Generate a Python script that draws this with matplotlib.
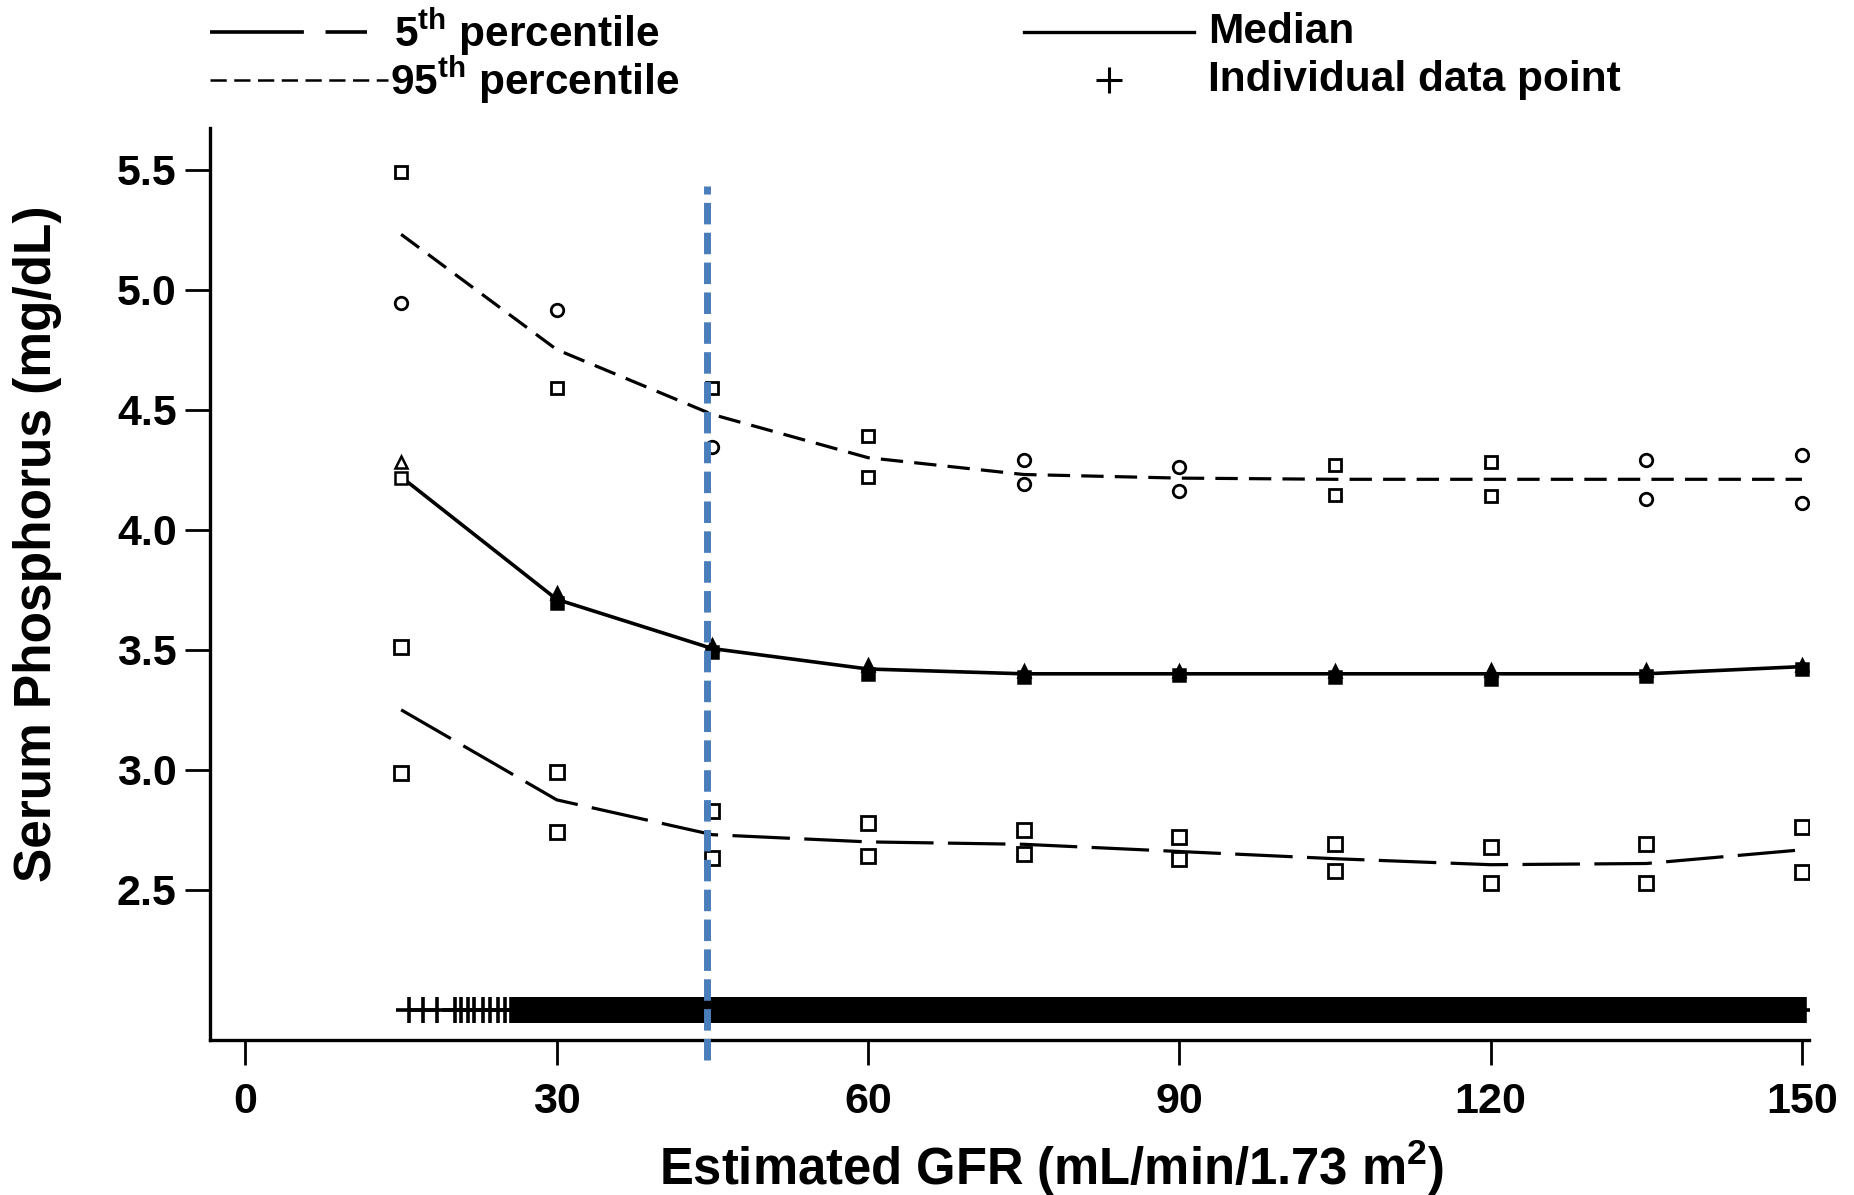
import matplotlib
matplotlib.use("Agg")
import matplotlib.pyplot as plt
from matplotlib.lines import Line2D

plt.rcParams['font.family'] = ['Liberation Sans', 'DejaVu Sans']
plt.rcParams['font.weight'] = 'bold'
plt.rcParams['mathtext.fontset'] = 'custom'
plt.rcParams['mathtext.rm'] = 'Liberation Sans:bold'
plt.rcParams['mathtext.default'] = 'rm'

# ---------------- data ----------------
egfr = [15, 30, 45, 60, 75, 90, 105, 120, 135, 150]
p95 = [5.23, 4.75, 4.48, 4.30, 4.23, 4.215, 4.21, 4.21, 4.21, 4.21]
p95_hi = [5.49, 4.915, 4.59, 4.39, 4.29, 4.26, 4.27, 4.28, 4.29, 4.31]
p95_lo = [4.945, 4.59, 4.345, 4.22, 4.19, 4.16, 4.145, 4.14, 4.13, 4.11]
median = [4.22, 3.71, 3.505, 3.42, 3.40, 3.40, 3.40, 3.40, 3.40, 3.43]
med_hi = [4.28, 3.735, 3.52, 3.435, 3.41, 3.41, 3.41, 3.415, 3.415, 3.435]
med_lo = [4.215, 3.695, 3.49, 3.40, 3.385, 3.395, 3.385, 3.38, 3.39, 3.42]
p5 = [3.25, 2.875, 2.73, 2.70, 2.69, 2.66, 2.63, 2.605, 2.61, 2.667]
p5_hi = [3.51, 2.99, 2.83, 2.78, 2.75, 2.72, 2.69, 2.677, 2.69, 2.76]
p5_lo = [2.985, 2.74, 2.635, 2.64, 2.65, 2.63, 2.58, 2.53, 2.53, 2.576]

rug_sparse_x = [15.8, 17.1, 18.5, 20.2, 20.8, 21.4, 22.0, 22.9, 23.6, 24.3, 25.0]
rug_dense_range = [25.6, 150.3]
rug_y = 2.0
cutoff_gfr = 44.5
cutoff_span = [1.79, 5.43]

x_ticks = [0, 30, 60, 90, 120, 150]
y_ticks = [2.5, 3.0, 3.5, 4.0, 4.5, 5.0, 5.5]

# ---------------- figure ----------------
W, H = 1854, 1195
fig = plt.figure(figsize=(W / 100, H / 100), dpi=100)
ax = fig.add_axes([210 / W, 1 - 1040 / H, (1809 - 210) / W, (1040 - 128) / H])

ax.set_xlim(-3.42, 150.68)
ax.set_ylim(1.875, 5.673)

lw = 2.3
ax.plot(egfr, p95, color='black', lw=lw, dashes=(7, 3.5), zorder=3)
ax.plot(egfr, median, color='black', lw=2.6, zorder=3)
ax.plot(egfr, p5, color='black', lw=lw, dashes=(18, 4.5), zorder=3)

# confidence markers
m95_hi = ['s', 'o', 's', 's', 'o', 'o', 's', 's', 'o', 'o']
m95_lo = ['o', 's', 'o', 's', 'o', 'o', 's', 's', 'o', 'o']
for xv, yh, yl, mh, ml in zip(egfr, p95_hi, p95_lo, m95_hi, m95_lo):
    ax.plot([xv], [yh], marker=mh, ms=9, mfc='white', mec='black', mew=2.0, ls='none', zorder=4)
    ax.plot([xv], [yl], marker=ml, ms=9, mfc='white', mec='black', mew=2.0, ls='none', zorder=4)

for i, (xv, yh, yl) in enumerate(zip(egfr, med_hi, med_lo)):
    fc = 'white' if i == 0 else 'black'
    ax.plot([xv], [yh], marker='^', ms=9, mfc=fc, mec='black', mew=1.8, ls='none', zorder=4)
    ax.plot([xv], [yl], marker='s', ms=8, mfc=fc, mec='black', mew=1.8, ls='none', zorder=4)

ax.plot(egfr, p5_hi, marker='s', ms=10, mfc='white', mec='black', mew=2.0, ls='none', zorder=4)
ax.plot(egfr, p5_lo, marker='s', ms=10, mfc='white', mec='black', mew=2.0, ls='none', zorder=4)

# rug of individual data points
rug_pts = rug_sparse_x + rug_dense_range
ax.plot(rug_pts, [rug_y] * len(rug_pts), marker='+', ms=19, mew=2.6, color='black', ls='none', zorder=3)
ax.broken_barh([(rug_dense_range[0], rug_dense_range[1] - rug_dense_range[0])],
               (rug_y - 0.056, 0.112), facecolors='black', zorder=3)

# cutoff line
ax.plot([cutoff_gfr, cutoff_gfr], cutoff_span, color='#4a7ebb', lw=5, dashes=(3.1, 1.2),
        clip_on=False, zorder=5)

# axes styling
for s in ['top', 'right']:
    ax.spines[s].set_visible(False)
for s in ['left', 'bottom']:
    ax.spines[s].set_linewidth(2.4)
ax.set_xticks(x_ticks)
ax.set_yticks(y_ticks)
ax.set_yticklabels([f"{v:.1f}" for v in y_ticks])
ax.tick_params(axis='both', direction='out', length=18, width=2, labelsize=31)
ax.tick_params(axis='x', pad=12)
ax.tick_params(axis='y', pad=6)

fig.text(1052 / W, 1 - 1168 / H, r"Estimated GFR (mL/min/1.73 m$^{2}$)", ha='center', va='center',
         fontsize=36.5, fontweight='bold')
fig.text(38 / W, 1 - 544 / H, "Serum Phosphorus (mg/dL)", ha='center', va='center',
         rotation=90, fontsize=37, fontweight='bold')

# legend (drawn in figure coordinates)
def fx(px):
    return px / W

def fy(py):
    return 1 - py / H

row1, row2 = 32, 80
fig.add_artist(Line2D([fx(210), fx(367)], [fy(row1), fy(row1)], color='black', lw=2.6,
                      dashes=(26, 6), transform=fig.transFigure))
fig.add_artist(Line2D([fx(210), fx(388)], [fy(row2), fy(row2)], color='black', lw=1.8,
                      dashes=(6.5, 3), transform=fig.transFigure))
fig.add_artist(Line2D([fx(1024), fx(1194)], [fy(row1), fy(row1)], color='black', lw=2.4,
                      transform=fig.transFigure))
fig.add_artist(Line2D([fx(1109)], [fy(row2)], color='black', marker='+', ms=19, mew=2.2,
                      ls='none', transform=fig.transFigure))
leg_fs = 30.5
fig.text(fx(394), fy(row1), r"5$^{\mathregular{th}}$ percentile", ha='left', va='center', fontsize=leg_fs)
fig.text(fx(390), fy(row2), r"95$^{\mathregular{th}}$ percentile", ha='left', va='center', fontsize=leg_fs)
fig.text(fx(1208), fy(row1), "Median", ha='left', va='center', fontsize=leg_fs)
fig.text(fx(1208), fy(row2), "Individual data point", ha='left', va='center', fontsize=leg_fs)

fig.savefig("out.png", dpi=100, facecolor='white')
